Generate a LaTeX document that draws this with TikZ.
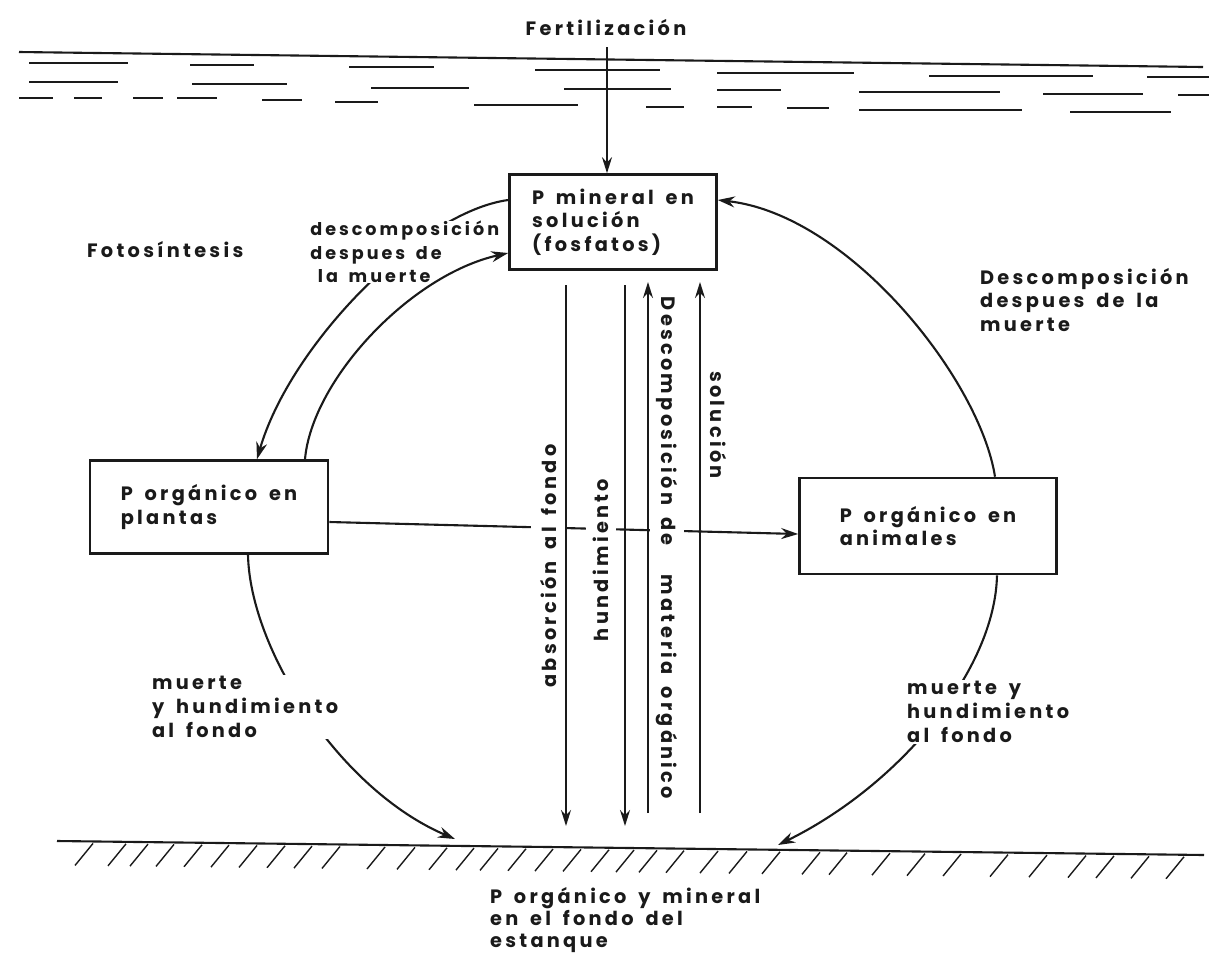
\documentclass[tikz,border=0pt]{standalone}
\usepackage{fontspec}
\setmainfont{Poppins}[LetterSpace=17,WordSpace=1.6]
\usepackage{tikz}
\usetikzlibrary{arrows.meta,calc}
\definecolor{ink}{HTML}{1A1A1A}
\newcommand{\lbfont}{\fontsize{11}{13.5}\selectfont\bfseries}
\tikzset{
  pbox/.style={draw=ink,fill=white,line width=1.5pt,align=left,font=\lbfont,
               text=ink,inner sep=0pt},
  lbl/.style={align=left,font=\lbfont,text=ink,inner sep=1pt},
  mask/.style={fill=white},
  flow/.style={-{Stealth[length=3.4mm,width=2.2mm]},line width=1.2pt,draw=ink},
  vflow/.style={-{Stealth[length=3.2mm,width=2mm]},line width=0.9pt,draw=ink},
  water/.style={line width=0.8pt,draw=ink},
  hatch/.style={line width=0.8pt,draw=ink}
}

\begin{document}
\begin{tikzpicture}[x=0.02cm,y=-0.02cm]
    \path[use as bounding box] (0,0) rectangle (1215,958);
    % water surface
    \draw[water,line width=1.2pt] (19,52) -- (1203,67);
    \foreach \a/\b/\y in {29/128/63,190/254/65,349/434/67,535/660/70,717/854/73,
        929/1093/76,1147/1209/77,
        29/118/82,192/287/84,371/469/88,564/671/89,717/781/90,859/1000/92,
        1043/1143/94,1178/1209/95,
        19/53/98,74/102/98,133/163/98,177/217/98,262/302/100,335/378/102,
        474/578/105,646/684/107,717/752/107,787/829/108,859/1022/110,1070/1171/112}
      \draw[water] (\a,\y) -- (\b,\y);
    % pond bottom
    \coordinate (gl) at (57,841);
    \coordinate (gr) at (1204,855);
    \coordinate (gA) at (455,839);
    \coordinate (gB) at (778,845);
    \draw[line width=1.2pt,draw=ink] (gl) -- (gr);
    \foreach \x in {93,126,148,174,202,229,257,285,312,340,385,415,447,474,498,
        526,553,581,609,634,657,684,718,747,780,820,847,890,925,961,1008,1047,
        1086,1114,1149,1184}
      \draw[hatch] (\x,{843+0.0122*(\x-57)}) -- ++(-18,22);

    % boxes
    \node[pbox,minimum width=4.14cm,minimum height=1.9cm]
      (min) at (613,222) {P mineral en\\solución\\(fosfatos)};
    \node[pbox,minimum width=4.76cm,minimum height=1.86cm]
      (plant) at (209,507) {P orgánico en\\plantas};
    \node[pbox,minimum width=5.14cm,minimum height=1.92cm]
      (anim) at (928,526) {P orgánico en\\animales};

    % fertilization
    \node[lbl] (fert) at (606,28) {Fertilización};
    \coordinate (surf) at (607,47);
    \draw[vflow] (surf) -- (surf |- min.north);

    % cycle arcs
    \draw[flow] ($(min.west)+(0,-22)$) .. controls (420,212) and (290,345)
      .. ($(plant.north)+(48,0)$);
    \draw[flow] ($(anim.north)+(67,0)$) .. controls (980,380) and (850,215)
      .. ($(min.east)+(0,-22)$);
    \draw[flow] ($(plant.south)+(39,0)$) .. controls (250,650) and (340,790) .. (gA);
    \draw[flow] ($(anim.south)+(69,0)$) .. controls (995,670) and (900,785) .. (gB);
    \draw[flow] ($(plant.east)+(0,15)$) -- ($(anim.west)+(0,8)$);

    % labels
    \node[lbl,anchor=west] (foto) at (85,250) {Fotosíntesis};
    \node[lbl,mask,anchor=west,inner sep=0pt,
          font=\fontsize{10}{13.5}\selectfont\bfseries] (desc1) at (310,252)
      {descomposición\\despues de\\\hspace{0.15cm}la muerte};
    \node[lbl,anchor=west] (desc2) at (978,300) {Descomposición\\despues de la\\muerte};
    \node[lbl,mask,anchor=west] (muer1) at (150,707) {muerte\\y hundimiento\\al fondo};
    \node[lbl,mask,anchor=west] (muer2) at (905,712) {muerte y\\hundimiento\\al fondo};
    \node[lbl,anchor=west,font=\fontsize{11}{12.5}\selectfont\bfseries] (fondo)
      at (488,920) {P orgánico y mineral\\en el fondo del\\estanque};
    \node[lbl,mask,rotate=90,inner ysep=0.2cm] (absor) at (549,566) {absorción al fondo};
    \node[lbl,mask,rotate=90,inner ysep=0.15cm] (hund) at (601,560) {hundimiento};
    \node[lbl,mask,rotate=-90,inner ysep=0.12cm] (mato) at (667,548)
      {Descomposición de\hspace{0.35cm} materia orgánico};
    \node[lbl,rotate=-90] (solu) at (718,425) {solución};

    \draw[flow] ($(plant.north)+(96,0)$) .. controls (312,380) and (410,275)
      .. ($(min.west)+(0,31)$);

    % exchanges with the bottom
    \coordinate (t1) at (566,285);
    \coordinate (b1) at (566,826);
    \coordinate (t2) at (625,285);
    \coordinate (b2) at (625,826);
    \coordinate (t3) at (648,282);
    \coordinate (b3) at (648,813);
    \coordinate (t4) at (700,282);
    \coordinate (b4) at (700,813);
    \draw[vflow] (t1) -- (b1);
    \draw[vflow] (t2) -- (b2);
    \draw[vflow] (b3) -- (t3);
    \draw[vflow] (b4) -- (t4);
  \end{tikzpicture}
\end{document}
